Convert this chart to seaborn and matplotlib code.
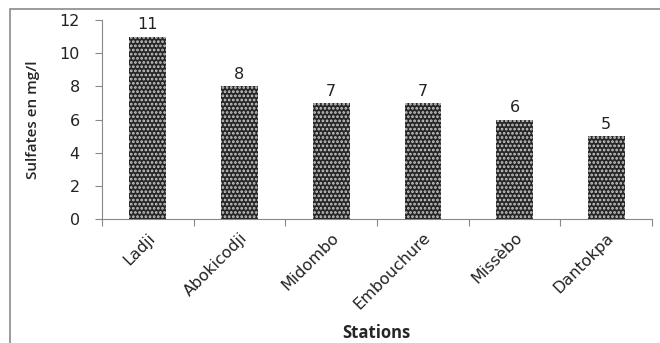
import matplotlib
matplotlib.use("Agg")
import matplotlib.pyplot as plt
import seaborn as sns
import pandas as pd
from matplotlib.patches import Rectangle

stations = ["Ladji", "Abokicodji", "Midombo", "Embouchure", "Missèbo", "Dantokpa"]
sulfates = [11, 8, 7, 7, 6, 5]
y_ticks = [0, 2, 4, 6, 8, 10, 12]

sns.set_theme(style="white")
plt.rcParams["font.family"] = ["DejaVu Sans"]
plt.rcParams["hatch.linewidth"] = 1.3

df = pd.DataFrame({"Stations": stations, "Sulfates": sulfates})

fig = plt.figure(figsize=(6.6, 3.43), dpi=100)
ax = fig.add_axes([0.1545, 0.3615, 0.8335, 0.5802])

sns.barplot(data=df, x="Stations", y="Sulfates", color="#2e2e2e",
            width=0.4, ax=ax, saturation=1)
for bar in ax.patches:
    bar.set_facecolor("#262626")
    bar.set_edgecolor("#cccccc")
    bar.set_linewidth(0)
    bar.set_hatch("....")

ax.set_ylim(0, 12)
ax.set_xlim(-0.5, len(stations) - 0.5)
ax.set_yticks(y_ticks)
ax.set_yticklabels([str(v) for v in y_ticks], fontsize=11.5, color="#222222")

# category ticks sit at the boundaries between stations
ax.set_xticks([i - 0.5 for i in range(len(stations) + 1)], minor=False)
ax.set_xticklabels([""] * (len(stations) + 1))
ax.set_xticks(range(len(stations)), minor=True)
ax.set_xticklabels(stations, minor=True, rotation=45, ha="right",
                   rotation_mode="anchor", fontsize=11.5, color="#222222")
ax.tick_params(axis="x", which="minor", length=0, pad=8)
ax.tick_params(axis="x", which="major", length=5, width=0.8, color="#888888",
               direction="out", bottom=True)
ax.tick_params(axis="y", length=5, width=0.8, color="#888888",
               direction="out", left=True, pad=11)

for s in ["top", "right"]:
    ax.spines[s].set_visible(False)
for s in ["left", "bottom"]:
    ax.spines[s].set_color("#888888")
    ax.spines[s].set_linewidth(0.8)

for i, v in enumerate(sulfates):
    ax.annotate(str(v), (i, v), xytext=(0, 3), textcoords="offset points",
                ha="center", va="bottom", fontsize=11.5, color="#222222")

ax.set_ylabel("Sulfates en mg/l", fontsize=11, family="Open Sans",
              fontweight="semibold", labelpad=14)
ax.set_xlabel("")
fig.text(376 / 660, 1 - 333 / 343, "Stations", ha="center", va="center",
         fontsize=12, family="Open Sans", fontweight="bold")

# outer chart frame
fig.patches.append(Rectangle((10 / 660, -0.05), 1.2, 1 - 9 / 343 + 0.05,
                             transform=fig.transFigure, fill=False,
                             edgecolor="#8a8a8a", linewidth=1.2))

fig.savefig("out.png", dpi=100)
